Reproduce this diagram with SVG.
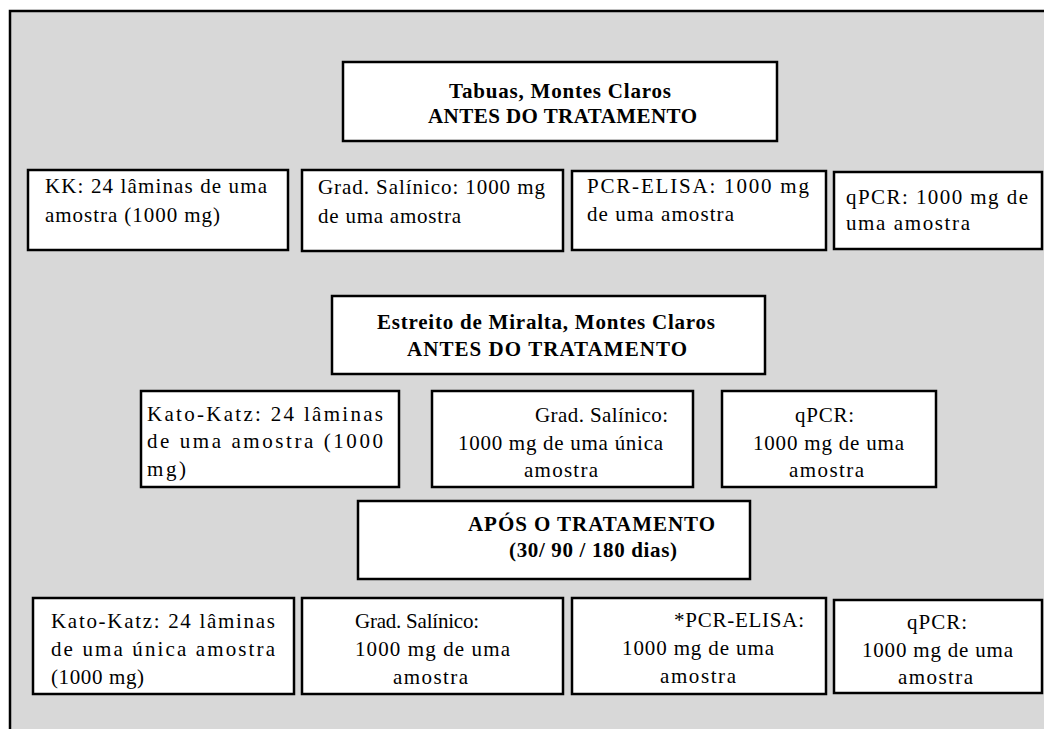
<svg xmlns="http://www.w3.org/2000/svg" width="1044" height="729" viewBox="0 0 1044 729">
<style>
.box{fill:#fff;stroke:#000;stroke-width:2.5}
.t{font-family:"Liberation Serif","Times New Roman",serif;font-size:21px;fill:#000}
.h{font-family:"Liberation Serif","Times New Roman",serif;font-size:21px;font-weight:bold;fill:#000}
</style>
<rect x="0" y="0" width="1044" height="729" fill="#fff"/>
<rect x="10" y="11" width="1040" height="730" fill="#d8d8d8"/>
<path d="M10,729 V11 H1044" fill="none" stroke="#000" stroke-width="2.5"/>
<g id="connectors"/>
<g id="tabuas">
<rect class="box" x="343" y="62" width="434" height="79"/>
<text class="h" x="449" y="98" textLength="222" lengthAdjust="spacing">Tabuas, Montes Claros</text>
<text class="h" x="428" y="123" textLength="269" lengthAdjust="spacing">ANTES DO TRATAMENTO</text>
</g>
<g id="r1-kk">
<rect class="box" x="28" y="170" width="260" height="80"/>
<text class="t" x="45" y="193" textLength="222" lengthAdjust="spacing">KK: 24 lâminas de uma</text>
<text class="t" x="45" y="222" textLength="175" lengthAdjust="spacing">amostra (1000 mg)</text>
</g>
<g id="r1-grad">
<rect class="box" x="302" y="170" width="261" height="81"/>
<text class="t" x="318" y="194" textLength="227" lengthAdjust="spacing">Grad. Salínico: 1000 mg</text>
<text class="t" x="318" y="223" textLength="143" lengthAdjust="spacing">de uma amostra</text>
</g>
<g id="r1-pcr">
<rect class="box" x="572" y="171" width="254" height="79"/>
<text class="t" x="587" y="193" textLength="222" lengthAdjust="spacing">PCR-ELISA: 1000 mg</text>
<text class="t" x="587" y="221" textLength="147" lengthAdjust="spacing">de uma amostra</text>
</g>
<g id="r1-qpcr">
<rect class="box" x="834" y="172" width="208" height="77"/>
<text class="t" x="846" y="204" textLength="182" lengthAdjust="spacing">qPCR: 1000 mg de</text>
<text class="t" x="846" y="230" textLength="124" lengthAdjust="spacing">uma amostra</text>
</g>
<g id="estreito">
<rect class="box" x="332" y="296" width="433" height="78"/>
<text class="h" x="377" y="329" textLength="338" lengthAdjust="spacing">Estreito de Miralta, Montes Claros</text>
<text class="h" x="407" y="356" textLength="280" lengthAdjust="spacing">ANTES DO TRATAMENTO</text>
</g>
<g id="r2-kato">
<rect class="box" x="141" y="391" width="258" height="96"/>
<text class="t" x="147" y="421" textLength="236" lengthAdjust="spacing">Kato-Katz: 24 lâminas</text>
<text class="t" x="147" y="448" textLength="236" lengthAdjust="spacing">de uma amostra (1000</text>
<text class="t" x="147" y="476" textLength="39" lengthAdjust="spacing">mg)</text>
</g>
<g id="r2-grad">
<rect class="box" x="432" y="391" width="261" height="96"/>
<text class="t" x="535" y="422" textLength="133" lengthAdjust="spacing">Grad. Salínico:</text>
<text class="t" x="458" y="450" textLength="205" lengthAdjust="spacing">1000 mg de uma única</text>
<text class="t" x="524" y="477" textLength="74" lengthAdjust="spacing">amostra</text>
</g>
<g id="r2-qpcr">
<rect class="box" x="722" y="391" width="214" height="96"/>
<text class="t" x="795" y="422" textLength="59" lengthAdjust="spacing">qPCR:</text>
<text class="t" x="753" y="450" textLength="151" lengthAdjust="spacing">1000 mg de uma</text>
<text class="t" x="789" y="477" textLength="75" lengthAdjust="spacing">amostra</text>
</g>
<g id="apos">
<rect class="box" x="358" y="501" width="392" height="78"/>
<text class="h" x="468" y="531" textLength="247" lengthAdjust="spacing">APÓS O TRATAMENTO</text>
<text class="h" x="509" y="557" textLength="168" lengthAdjust="spacing">(30/ 90 / 180 dias)</text>
</g>
<g id="r3-kato">
<rect class="box" x="33" y="598" width="261" height="96"/>
<text class="t" x="51" y="628" textLength="224" lengthAdjust="spacing">Kato-Katz: 24 lâminas</text>
<text class="t" x="51" y="656" textLength="224" lengthAdjust="spacing">de uma única amostra</text>
<text class="t" x="51" y="684" textLength="93" lengthAdjust="spacing">(1000 mg)</text>
</g>
<g id="r3-grad">
<rect class="box" x="302" y="598" width="261" height="96"/>
<text class="t" x="355" y="628" textLength="124" lengthAdjust="spacing">Grad. Salínico:</text>
<text class="t" x="355" y="656" textLength="155" lengthAdjust="spacing">1000 mg de uma</text>
<text class="t" x="393" y="684" textLength="75" lengthAdjust="spacing">amostra</text>
</g>
<g id="r3-pcr">
<rect class="box" x="572" y="598" width="254" height="96"/>
<text class="t" x="674" y="627" textLength="130" lengthAdjust="spacing">*PCR-ELISA:</text>
<text class="t" x="622" y="655" textLength="152" lengthAdjust="spacing">1000 mg de uma</text>
<text class="t" x="660" y="683" textLength="76" lengthAdjust="spacing">amostra</text>
</g>
<g id="r3-qpcr">
<rect class="box" x="834" y="600" width="208" height="93"/>
<text class="t" x="907" y="629" textLength="60" lengthAdjust="spacing">qPCR:</text>
<text class="t" x="862" y="657" textLength="151" lengthAdjust="spacing">1000 mg de uma</text>
<text class="t" x="898" y="684" textLength="75" lengthAdjust="spacing">amostra</text>
</g>
</svg>
